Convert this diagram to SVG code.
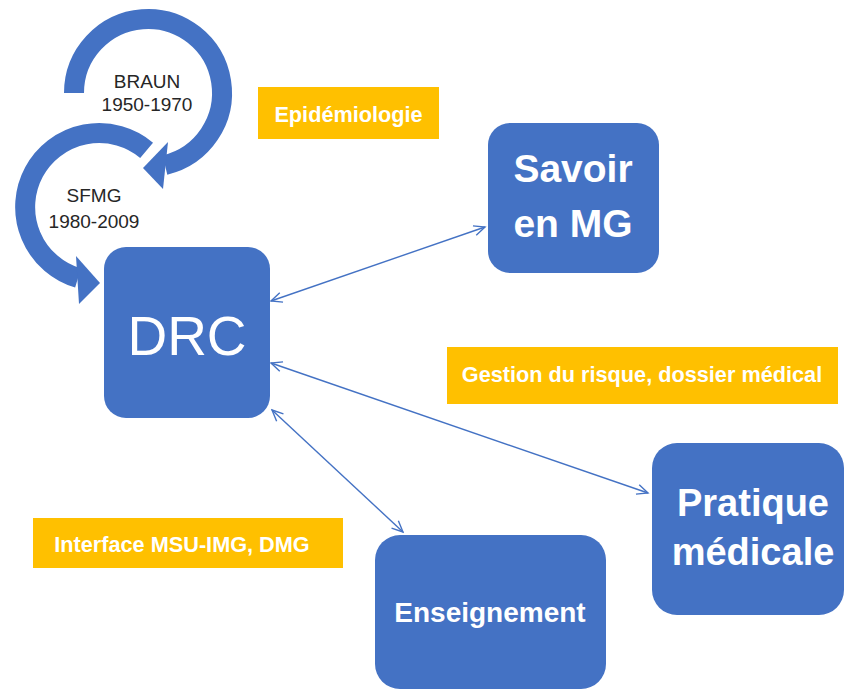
<svg xmlns="http://www.w3.org/2000/svg" width="844" height="689" viewBox="0 0 844 689">
<style>
.node{fill:#4472C4}
.tag{fill:#FFC000}
.ring{fill:none;stroke:#4472C4;stroke-width:20;stroke-linecap:butt}
.head{fill:#4472C4}
.conn{fill:none;stroke:#4472C4;stroke-width:1.4}
.big{font-family:"Liberation Sans",Arial,sans-serif;font-weight:bold;fill:#FFFFFF;text-anchor:middle}
.tagt{font-family:"Liberation Sans",Arial,sans-serif;font-weight:bold;fill:#FFFFFF;font-size:21.7px;text-anchor:middle}
.lbl{font-family:"Liberation Sans",Arial,sans-serif;fill:#262626;font-size:19px;text-anchor:middle}
</style>
<defs>
<marker id="oa" viewBox="-12 -7 14 14" refX="0" refY="0" markerWidth="14" markerHeight="14" markerUnits="userSpaceOnUse" orient="auto-start-reverse">
<path d="M -11 -5 L 0 0 L -11 5" fill="none" stroke="#4472C4" stroke-width="1.4"/>
</marker>
</defs>
<rect width="844" height="689" fill="#FFFFFF"/>

<g id="cycle-braun">
<path class="ring" d="M 74 93 A 74 74 0 1 1 165 165"/>
<polygon class="head" points="168,142 143,168 163,189"/>
<text class="lbl" x="147" y="88">BRAUN</text>
<text class="lbl" x="147" y="111">1950-1970</text>
</g>

<g id="cycle-sfmg">
<path class="ring" d="M 146.6 150.3 A 74 74 0 1 0 78 278"/>
<polygon class="head" points="76,256 100,283 79,304"/>
<text class="lbl" x="94" y="202">SFMG</text>
<text class="lbl" x="94" y="228">1980-2009</text>
</g>

<g id="connectors">
<line class="conn" x1="271" y1="301" x2="485" y2="227" marker-start="url(#oa)" marker-end="url(#oa)"/>
<line class="conn" x1="271" y1="363" x2="648" y2="493" marker-start="url(#oa)" marker-end="url(#oa)"/>
<line class="conn" x1="272" y1="410" x2="403" y2="532" marker-start="url(#oa)" marker-end="url(#oa)"/>
</g>

<g id="drc">
<rect class="node" x="104" y="247" width="166" height="171" rx="22"/>
<text x="187" y="355" font-family="'Liberation Sans',Arial,sans-serif" font-size="55" fill="#FFFFFF" text-anchor="middle">DRC</text>
</g>

<g id="savoir">
<rect class="node" x="488" y="123" width="171" height="150" rx="22"/>
<text class="big" x="573" y="182" font-size="39">Savoir</text>
<text class="big" x="573" y="237" font-size="39">en MG</text>
</g>

<g id="pratique">
<rect class="node" x="652" y="443" width="192" height="172" rx="25"/>
<text class="big" x="753" y="516" font-size="38">Pratique</text>
<text class="big" x="753" y="565" font-size="38">médicale</text>
</g>

<g id="enseignement">
<rect class="node" x="375" y="535" width="231" height="154" rx="25"/>
<text class="big" x="490" y="622" font-size="28">Enseignement</text>
</g>

<g id="epidemiologie">
<rect class="tag" x="258" y="87" width="181" height="52"/>
<text class="tagt" x="348.5" y="122">Epidémiologie</text>
</g>

<g id="gestion">
<rect class="tag" x="447" y="347" width="391" height="57"/>
<text class="tagt" x="642" y="382">Gestion du risque, dossier médical</text>
</g>

<g id="interface">
<rect class="tag" x="33" y="518" width="310" height="50"/>
<text class="tagt" x="182" y="552">Interface MSU-IMG, DMG</text>
</g>
</svg>
